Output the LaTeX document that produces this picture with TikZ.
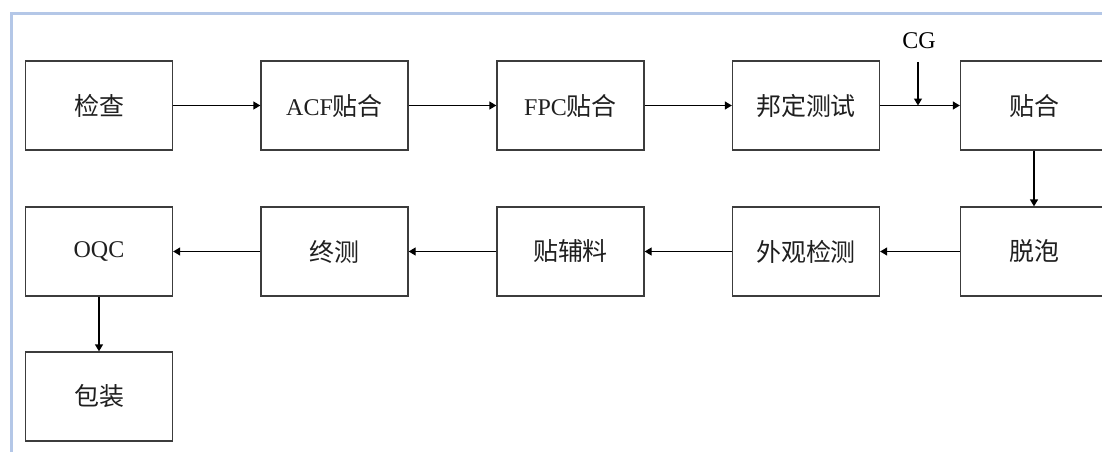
\documentclass[tikz,border=0pt]{standalone}
\usepackage{fontspec}
\setmainfont{Liberation Serif}
\newfontfamily\cjk{Noto Sans CJK SC}[Scale=1.04]
\usetikzlibrary{arrows.meta}
\definecolor{frameblue}{HTML}{B4C7E7}
\definecolor{boxline}{HTML}{3C3C3C}
\tikzset{
  stepbox/.style={draw=boxline, line width=1.3pt, minimum width=147pt, minimum height=89pt, inner sep=0pt, font=\fontsize{24}{28}\selectfont, text=black!88},
  flow/.style={line width=1.3pt, -{Triangle[length=7pt,width=8pt]}}
}
\begin{document}
\begin{tikzpicture}[x=1pt,y=-1pt]
\useasboundingbox (0,0) rectangle (1102,452);
\clip (0,0) rectangle (1102,452);
\fill[white] (0,0) rectangle (1102,452);
\draw[frameblue, line width=3pt] (11.5,460) -- (11.5,13.5) -- (1110,13.5);
\node[stepbox] (n1) at (99,105.5) {\cjk 检查};
\node[stepbox] (n2) at (334.5,105.5) {ACF{\cjk 贴合}};
\node[stepbox] (n3) at (570.5,105.5) {FPC{\cjk 贴合}};
\node[stepbox] (n4) at (806,105.5) {\cjk 邦定测试};
\node[stepbox] (n5) at (1034,105.5) {\cjk 贴合};
\node[stepbox] (n6) at (1034,251.5) {\cjk 脱泡};
\node[stepbox] (n7) at (806,251.5) {\cjk 外观检测};
\node[stepbox] (n8) at (570.5,251.5) {\cjk 贴辅料};
\node[stepbox] (n9) at (334.5,251.5) {\cjk 终测};
\node[stepbox] (n10) at (99,251.5) {OQC};
\node[stepbox] (n11) at (99,396.5) {\cjk 包装};
\node[font=\fontsize{24}{28}\selectfont, inner sep=1pt] (cg) at (919,41) {CG};
\coordinate (cgend) at (918,105.5);
\draw[flow] (n1) -- (n2);
\draw[flow] (n2) -- (n3);
\draw[flow] (n3) -- (n4);
\draw[flow] (n4) -- (n5);
\draw[flow] (918,62) -- (cgend);
\draw[flow] (n5) -- (n6);
\draw[flow] (n6) -- (n7);
\draw[flow] (n7) -- (n8);
\draw[flow] (n8) -- (n9);
\draw[flow] (n9) -- (n10);
\draw[flow] (n10) -- (n11);
\end{tikzpicture}
\end{document}
